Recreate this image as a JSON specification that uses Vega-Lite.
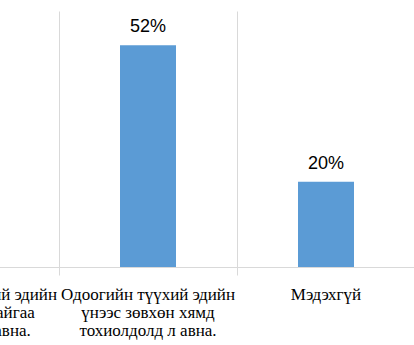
{
  "$schema": "https://vega.github.io/schema/vega-lite/v6.json",
  "width": 414,
  "height": 256,
  "autosize": "none",
  "padding": {"left": 0, "right": 0, "top": 11, "bottom": 78},
  "config": {"view": {"stroke": null}},
  "data": {
    "values": [
      {"category": "Одоогийн түүхий эдийн үнээр ч дуртайгаа худалдаж ч авна.", "pct": 0.28},
      {"category": "Одоогийн түүхий эдийн үнээс зөвхөн хямд тохиолдолд л авна.", "pct": 0.52},
      {"category": "Мэдэхгүй", "pct": 0.2}
    ]
  },
  "encoding": {
    "x": {
      "field": "category",
      "type": "nominal",
      "sort": null,
      "scale": {"range": [-119, 415], "paddingInner": 0, "paddingOuter": 0},
      "axis": {
        "title": null,
        "labelAngle": 0,
        "bandPosition": 0,
        "grid": true,
        "gridColor": "#d9d9d9",
        "gridWidth": 1,
        "domainColor": "#d9d9d9",
        "domainWidth": 1,
        "tickColor": "#d9d9d9",
        "tickSize": 8,
        "labelFont": "Liberation Serif",
        "labelFontSize": 17,
        "labelLineHeight": 18,
        "labelColor": "#000000",
        "labelPadding": 11,
        "labelBaseline": "top",
        "labelAlign": "center",
        "labelFlush": false,
        "labelBound": false,
        "labelLimit": 0,
        "labelOverlap": false,
        "labelExpr": "datum.value == 'Мэдэхгүй' ? 'Мэдэхгүй' : (datum.value == 'Одоогийн түүхий эдийн үнээс зөвхөн хямд тохиолдолд л авна.' ? ['Одоогийн түүхий эдийн', 'үнээс зөвхөн хямд', 'тохиолдолд л авна.'] : ['Одоогийн түүхий эдийн', 'үнээр ч дуртайгаа', 'худалдаж ч авна.'])"
      }
    },
    "y": {
      "field": "pct",
      "type": "quantitative",
      "scale": {"domain": [0, 0.6]},
      "axis": null
    }
  },
  "layer": [
    {"mark": {"type": "bar", "width": 56, "color": "#5B9BD5"}},
    {
      "mark": {"type": "text", "font": "Liberation Sans", "fontSize": 18, "dy": -13, "baseline": "alphabetic", "color": "#000000"},
      "encoding": {"text": {"field": "pct", "type": "quantitative", "format": ".0%"}}
    }
  ]
}
